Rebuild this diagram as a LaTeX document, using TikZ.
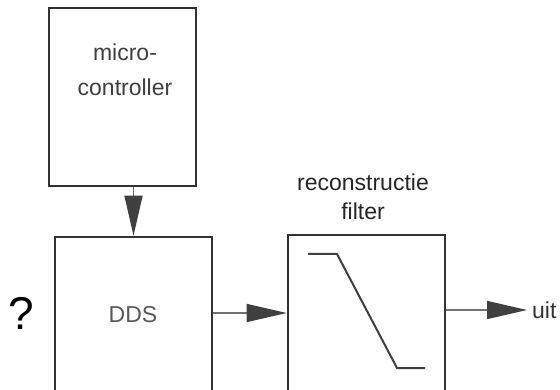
\documentclass[tikz,border=0pt]{standalone}
\usepackage{fontspec}
\setmainfont{Liberation Sans}
\usetikzlibrary{positioning,arrows.meta}

\begin{document}
\begin{tikzpicture}[
  x=1pt, y=-1pt,
  node distance=4mm,
  block/.style={rectangle, draw=black!80, line width=2.6pt, inner sep=0pt},
  tekst/.style={font=\fontsize{23}{29}\selectfont, align=center},
  verbinding/.style={draw=black!55, line width=1.4pt,
    -{Triangle[length=40pt, width=18pt, fill=black!75, color=black!75]}}
]
  \useasboundingbox (0,0) rectangle (560,390);
  \clip (0,0) rectangle (560,390);

  \node (micro) [block, minimum width=147pt, minimum height=178pt] at (122.5,97) {};
  \node (microtekst) [tekst, text=black!75, text height=16pt] at (125,88) {micro-\\[6pt]controller};

  \node (dds) [block, minimum width=157pt, minimum height=160pt] at (133.5,317) {};
  \node (ddstekst) [tekst, text=black!65] at (133,315) {DDS};

  \node (vraag) [font=\fontsize{46}{50}\selectfont] at (21,313) {?};

  \node (filter) [block, minimum width=157pt, minimum height=164pt] at (366.5,317) {};
  \node (filtertekst) [tekst, text=black!85] at (363,197) {reconstructie\\filter};

  % laagdoorlaat-karakteristiek
  \draw [black!75, line width=2pt] (308,254) -- (337,254) -- (397,368) -- (425,368);

  \coordinate (uitpunt) at (527,310);
  \node (uit) [tekst, text=black!80, anchor=west, inner sep=0pt] at (532,310) {uit};

  \draw [verbinding] (dds.north |- micro.south) -- (dds.north);
  \draw [verbinding] (dds.east |- 0,313) -- (filter.west |- 0,313);
  \draw [verbinding] (filter.east |- uitpunt) -- (uitpunt);
\end{tikzpicture}
\end{document}
